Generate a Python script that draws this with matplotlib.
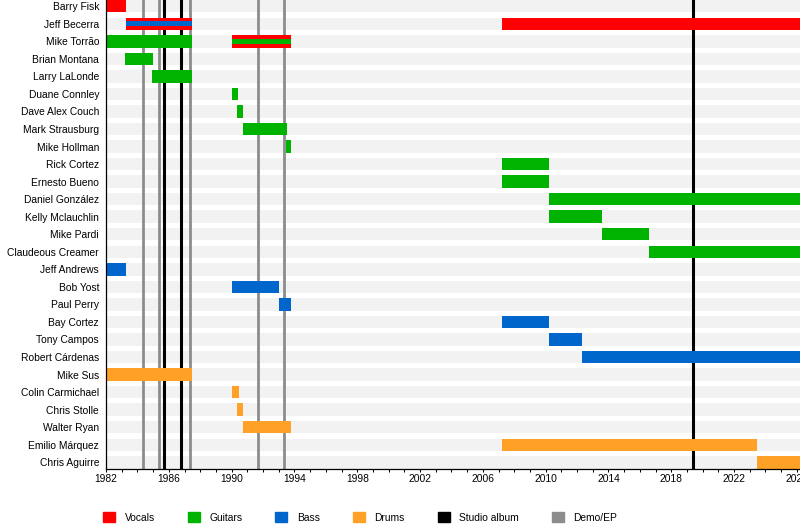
import matplotlib
matplotlib.use("Agg")
import matplotlib.pyplot as plt
from matplotlib.patches import Patch

plt.rcParams['font.family'] = ['Liberation Sans', 'DejaVu Sans']
plt.rcParams['font.size'] = 7.4

# members, top to bottom
names = ["Barry Fisk", "Jeff Becerra", "Mike Torrão", "Brian Montana", "Larry LaLonde",
         "Duane Connley", "Dave Alex Couch", "Mark Strausburg", "Mike Hollman",
         "Rick Cortez", "Ernesto Bueno", "Daniel González", "Kelly Mclauchlin",
         "Mike Pardi", "Claudeous Creamer", "Jeff Andrews", "Bob Yost", "Paul Perry",
         "Bay Cortez", "Tony Campos", "Robert Cárdenas", "Mike Sus",
         "Colin Carmichael", "Chris Stolle", "Walter Ryan", "Emilio Márquez",
         "Chris Aguirre"]

START = 1982.0
END = 2026.2  # present

vocals = [("Barry Fisk", 1982.0, 1983.25), ("Jeff Becerra", 1983.25, 1987.46),
          ("Jeff Becerra", 2007.2, END), ("Mike Torrão", 1990.0, 1993.8)]
guitars = [("Mike Torrão", 1982.0, 1987.46), ("Brian Montana", 1983.2, 1985.0),
           ("Larry LaLonde", 1984.95, 1987.46), ("Duane Connley", 1990.0, 1990.4),
           ("Dave Alex Couch", 1990.35, 1990.73), ("Mark Strausburg", 1990.7, 1993.5),
           ("Mike Hollman", 1993.45, 1993.8), ("Rick Cortez", 2007.2, 2010.2),
           ("Ernesto Bueno", 2007.2, 2010.2), ("Daniel González", 2010.2, END),
           ("Kelly Mclauchlin", 2010.2, 2013.6), ("Mike Pardi", 2013.6, 2016.6),
           ("Claudeous Creamer", 2016.6, END)]
bass = [("Jeff Andrews", 1982.0, 1983.25), ("Bob Yost", 1990.0, 1993.0),
        ("Paul Perry", 1993.0, 1993.8), ("Bay Cortez", 2007.2, 2010.2),
        ("Tony Campos", 2010.2, 2012.3), ("Robert Cárdenas", 2012.3, END)]
drums = [("Mike Sus", 1982.0, 1987.46), ("Colin Carmichael", 1990.0, 1990.47),
         ("Chris Stolle", 1990.37, 1990.73), ("Walter Ryan", 1990.7, 1993.8),
         ("Emilio Márquez", 2007.2, 2023.47), ("Chris Aguirre", 2023.47, END)]
# second role drawn as a thin stripe inside the vocal bar
stripes = [("Jeff Becerra", 1983.25, 1987.46, "Bass"),
           ("Mike Torrão", 1990.0, 1993.8, "Guitars")]

studio_albums = [1985.72, 1986.8, 2019.4]
demos = [1984.38, 1985.35, 1987.37, 1991.7, 1993.36]

colors = {"Vocals": "#ff0000", "Guitars": "#00b300", "Bass": "#0066cc",
          "Drums": "#ffa127", "Studio album": "#000000", "Demo/EP": "#8c8c8c"}

row = {n: i for i, n in enumerate(names)}
h = 0.71

fig = plt.figure(figsize=(8, 5.28), dpi=100)
ax = fig.add_axes([106/800, 59.5/528, 1 - 106/800, 1 - 59.5/528])

# light background bands
ax.barh(range(len(names)), END - START, left=START, height=h, color="#f2f2f2", zorder=0)

for x in demos:
    ax.axvline(x, color=colors["Demo/EP"], lw=2.0, zorder=1)
for x in studio_albums:
    ax.axvline(x, color=colors["Studio album"], lw=2.2, zorder=1)

for role, spans in [("Vocals", vocals), ("Guitars", guitars), ("Bass", bass), ("Drums", drums)]:
    for n, s, e in spans:
        ax.barh(row[n], e - s, left=s, height=h, color=colors[role], zorder=2)
for n, s, e, role in stripes:
    ax.barh(row[n], e - s, left=s, height=h * 0.4, color=colors[role], zorder=3)

ax.set_xlim(START, END)
ax.set_ylim(len(names) - 1 + h / 2, -h / 2)
ax.set_yticks(range(len(names)))
ax.set_yticklabels(names)
ax.tick_params(axis="y", length=0, pad=5)
ax.set_xticks(range(1982, 2027, 4))
ax.set_xticks(range(1982, 2027), minor=True)
ax.tick_params(axis="x", which="both", length=2.3, width=0.75, pad=1.5, direction="out")
for sp in ["top", "right"]:
    ax.spines[sp].set_visible(False)
for sp in ["left", "bottom"]:
    ax.spines[sp].set_linewidth(0.9)
    ax.spines[sp].set_zorder(4)

handles = [Patch(color=c, label=k) for k, c in colors.items()]
fig.legend(handles=handles, loc="center left", bbox_to_anchor=(98/800, 1 - 517.5/528),
           ncol=6, frameon=False, borderpad=0, handlelength=1.15, handleheight=1.15,
           handletextpad=0.95, columnspacing=3.2)

fig.savefig("out.png", dpi=100)
